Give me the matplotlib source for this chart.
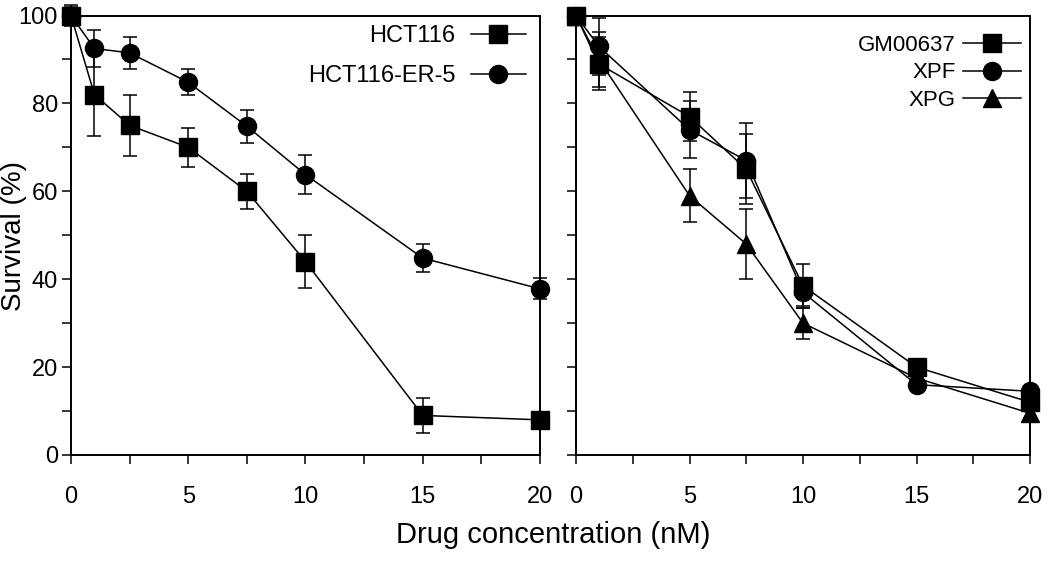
import numpy as np
import matplotlib
matplotlib.use("Agg")
import matplotlib.pyplot as plt

plt.rcParams['font.family'] = ['Liberation Sans', 'DejaVu Sans']

# Left panel: HCT116 lines
conc_left = [0, 1, 2.5, 5, 7.5, 10, 15, 20]
hct116 = [100, 82, 75, 70, 60, 44, 9, 8]
hct116_err = [2.5, 9.5, 7, 4.5, 4, 6, 4, 1]
er5 = [100, 92.5, 91.5, 84.8, 74.8, 63.8, 44.8, 37.8]
er5_err = [2, 4.3, 3.6, 3, 3.7, 4.4, 3.2, 2.4]

# Right panel: GM00637 / XPF / XPG
conc_right = [0, 1, 5, 7.5, 10, 15, 20]
gm = [100, 89, 77, 65, 38.5, 20, 12]
gm_err = [1, 6, 5.5, 8, 5, 1.5, 1]
xpf = [100, 93, 74, 67, 37, 16, 14.5]
xpf_err = [1, 6.5, 6.5, 8.5, 3, 1.5, 1]
xpg = [100, 90, 59, 48, 30, 17.5, 9.5]
xpg_err = [1, 6.3, 6, 8, 3.5, 1.5, 1]

labels_l = ['HCT116', 'HCT116-ER-5']
labels_r = ['GM00637', 'XPF', 'XPG']

fig = plt.figure(figsize=(10.5, 5.62), dpi=100)
ax_l = fig.add_axes([0.0676, 0.1904, 0.4467, 0.782])
ax_r = fig.add_axes([0.5486, 0.1904, 0.4324, 0.782])

def series(ax, x, y, err, marker, ms):
    c = ax.errorbar(x, y, yerr=err, color='black', marker=marker, markersize=ms,
                    linewidth=1.1, elinewidth=1.1, capsize=5, capthick=1.1,
                    clip_on=False, zorder=3)
    for bar in c[2]:
        bar.set_clip_on(False)
    for cap in c[1]:
        cap.set_clip_on(False)
    return c[0]

h_l = [series(ax_l, conc_left, hct116, hct116_err, 's', 13.5),
       series(ax_l, conc_left, er5, er5_err, 'o', 13)]

h_r = [series(ax_r, conc_right, gm, gm_err, 's', 13.5),
       series(ax_r, conc_right, xpf, xpf_err, 'o', 13),
       series(ax_r, conc_right, xpg, xpg_err, '^', 13.5)]

for ax in (ax_l, ax_r):
    ax.set_xlim(0, 20)
    ax.set_ylim(0, 100)
    ax.set_xticks([0, 5, 10, 15, 20])
    ax.set_xticks(np.arange(0, 20.1, 2.5), minor=True)
    ax.tick_params(which='both', direction='out', length=6.5, width=1.1,
                   labelsize=17, top=False, right=False)
    ax.tick_params(axis='x', which='both', pad=16)
    ax.tick_params(axis='y', which='both', pad=3)
    for s in ax.spines.values():
        s.set_linewidth(1.4)

ax_l.set_yticks([0, 20, 40, 60, 80, 100])
ax_l.set_yticks(np.arange(0, 101, 10), minor=True)
ax_r.set_yticks(np.arange(0, 101, 10))
ax_r.set_yticklabels([])

ax_l.legend(h_l, labels_l, loc='upper right', bbox_to_anchor=(1.0, 1.01), frameon=False,
            markerfirst=False, fontsize=17, handlelength=2.33,
            labelspacing=0.75, handletextpad=0.64, borderaxespad=0.2)
ax_r.legend(h_r, labels_r, loc='upper right', bbox_to_anchor=(1.0, 0.976), frameon=False,
            markerfirst=False, fontsize=16, handlelength=2.6,
            labelspacing=0.29, handletextpad=0.36, borderaxespad=0.0)

fig.text(0.013, 0.58, 'Survival (%)', rotation=90, ha='center', va='center', fontsize=20)
fig.text(0.527, 0.048, 'Drug concentration (nM)', ha='center', va='center', fontsize=21)

fig.savefig('out.png', dpi=100)
